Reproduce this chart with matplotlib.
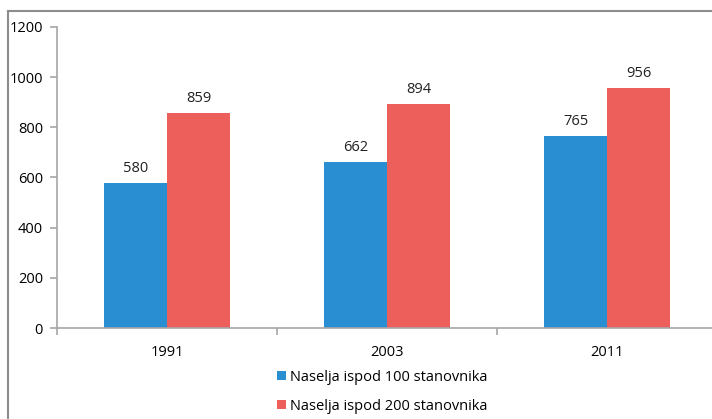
import matplotlib.pyplot as plt
from matplotlib.lines import Line2D
import numpy as np

# data
years = ['1991', '2003', '2011']
under_100 = [580, 662, 765]
under_200 = [859, 894, 956]
series_labels = ['Naselja ispod 100 stanovnika', 'Naselja ispod 200 stanovnika']
yticks = [0, 200, 400, 600, 800, 1000, 1200]

blue = '#2a8fd2'
red = '#ec5f5a'
axis_gray = '#a6a6a6'

plt.rcParams['font.family'] = ['Open Sans', 'DejaVu Sans']

W, H = 712, 419
fig = plt.figure(figsize=(W / 100, H / 100), dpi=100)

# axes placed in pixel terms
ax = fig.add_axes([57 / W, (H - 328) / H, 660 / W, 301 / H])

x = np.arange(len(years))
bw = 0.286
b1 = ax.bar(x - bw / 2, under_100, bw, color=blue, label=series_labels[0])
b2 = ax.bar(x + bw / 2, under_200, bw, color=red, label=series_labels[1])
ax.bar_label(b1, padding=5, fontsize=10.5, color='#222222')
ax.bar_label(b2, padding=5, fontsize=10.5, color='#222222')

ax.set_xlim(-0.5, len(years) - 0.5)
ax.set_ylim(0, 1200)
ax.set_yticks(yticks)
ax.set_xticks(x)
ax.set_xticklabels(years)
ax.set_xticks(np.arange(len(years)) - 0.5, minor=True)

for s in ['top', 'right']:
    ax.spines[s].set_visible(False)
for s in ['left', 'bottom']:
    ax.spines[s].set_color(axis_gray)
    ax.spines[s].set_linewidth(1.2)

ax.tick_params(axis='y', length=5, width=1.2, color=axis_gray, labelsize=10.5, pad=5)
ax.tick_params(axis='x', which='major', length=0, labelsize=10.5, pad=12)
ax.tick_params(axis='x', which='minor', length=5, width=1.2, color=axis_gray)

# legend, stacked under the axis
fig.legend(handles=[b1, b2], labels=series_labels, loc='upper left',
           bbox_to_anchor=(277 / W, 1 - 370 / H), frameon=False, fontsize=10.5,
           handlelength=0.6, handleheight=0.6, handletextpad=0.3,
           labelspacing=0.95, borderaxespad=0, borderpad=0)

# outer frame (top and left edges visible)
fig.add_artist(Line2D([8 / W, 1], [1 - 11 / H, 1 - 11 / H], color='#8c8c8c', lw=1.5,
                      transform=fig.transFigure))
fig.add_artist(Line2D([8 / W, 8 / W], [0, 1 - 11 / H], color='#8c8c8c', lw=1.5,
                      transform=fig.transFigure))

fig.savefig('out.png', dpi=100)
